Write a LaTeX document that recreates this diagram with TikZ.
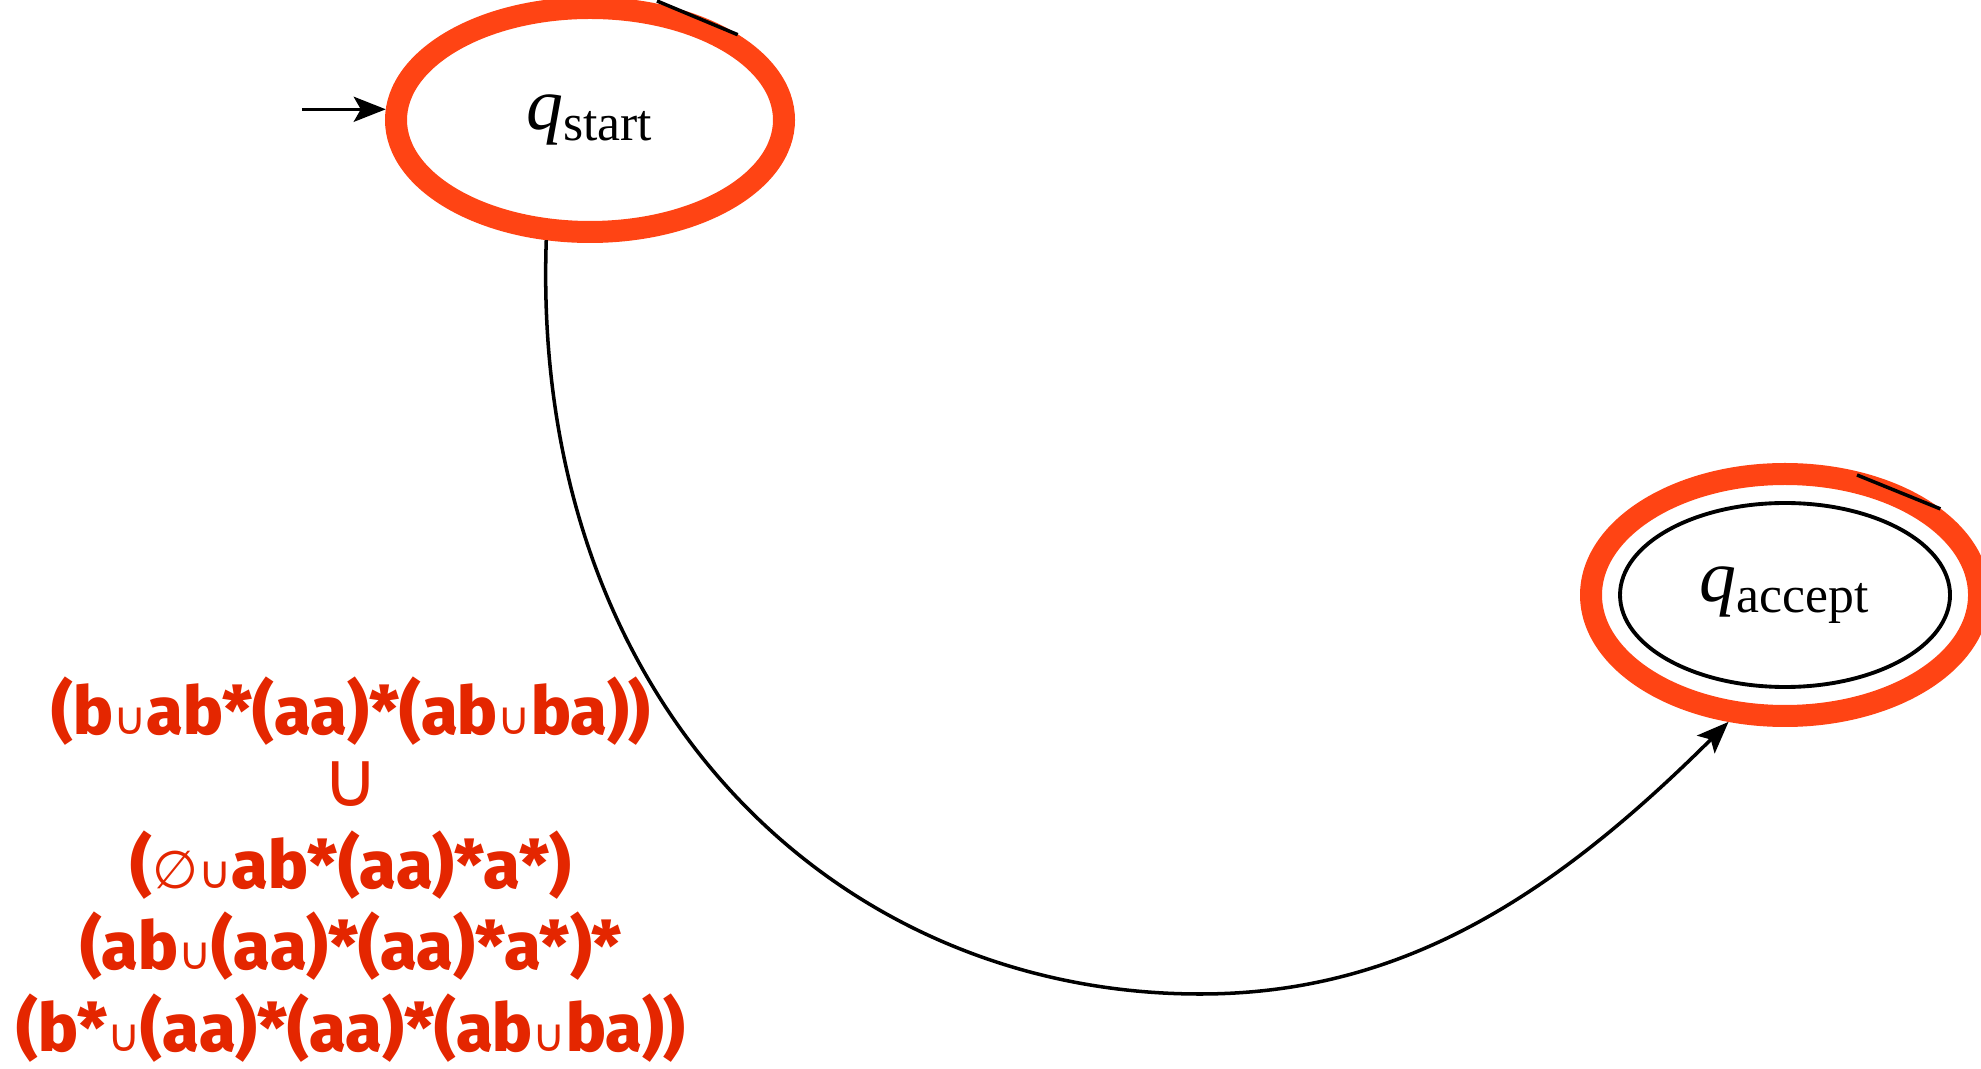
\documentclass[tikz,border=0pt]{standalone}
\usepackage{fontspec}
\usepackage{tikz}
\usetikzlibrary{arrows.meta, positioning, shapes.geometric}
\setmainfont{Liberation Serif}
\newfontfamily\regexfont{Fira Sans}[BoldFont={Fira Sans ExtraBold}]
\newfontfamily\opsfont{DejaVu Sans}
\definecolor{ringred}{RGB}{255,68,20}
\definecolor{textred}{RGB}{228,38,0}
\newcommand{\un}{{\opsfont\mdseries\fontsize{13}{13}\selectfont ∪}}
\newcommand{\bigun}{{\opsfont\mdseries\fontsize{22}{22}\selectfont ∪}}
\newcommand{\emptysym}{{\opsfont\mdseries\fontsize{15}{15}\selectfont ∅}}

\begin{document}
\begin{tikzpicture}[
  ring/.style={ellipse, draw=ringred, line width=0.22cm, inner sep=0pt, minimum width=3.88cm},
  state/.style={ellipse, draw, line width=1.1pt, inner sep=0pt},
  label/.style={font=\fontsize{21}{25}\selectfont},
  regex/.style={text=textred, align=center, inner sep=0pt, font=\regexfont\bfseries\fontsize{19}{23.3}\selectfont},
  edge/.style={line width=1pt},
  >={Stealth[length=0.32cm, width=0.25cm, inset=0.07cm]}
]
\useasboundingbox (0,0) rectangle (19.81,-10.69);

\node[ring, label, minimum height=2.24cm] (qs) at (5.90,-1.20) {$\mathit{q}_{\mathrm{start}}$};
\node[ring, minimum height=2.42cm] (qaring) at (17.85,-5.95) {};
\node[state, label, minimum width=3.30cm, minimum height=1.84cm] (qa) at (qaring) {$\mathit{q}_{\mathrm{accept}}$};
\coordinate[left=0.84cm of qs.177] (init);
\coordinate (low) at (12.00,-9.94);
\coordinate (qstail) at (6.57,-0.01);
\coordinate (qatail) at (18.57,-4.75);

\node[regex] (re) at (3.51,-8.70) {(b\un ab*(aa)*(ab\un ba))\\[-3pt]
  \bigun\\
  (\emptysym\un ab*(aa)*a*)\\
  (ab\un(aa)*(aa)*a*)*\\
  (b*\un(aa)*(aa)*(ab\un ba))};

\draw[edge, ->] (init) -- (qs.177);
\draw[edge, ->] (qs.250) .. controls +(-0.16,-4.61) and +(-3.66,0) .. (low)
  .. controls +(2.00,0) and +(-1.78,-1.77) .. (qaring.246);
\draw[edge] (qs.30) -- (qstail);
\draw[edge] (qaring.29) -- (qatail);
\end{tikzpicture}
\end{document}
